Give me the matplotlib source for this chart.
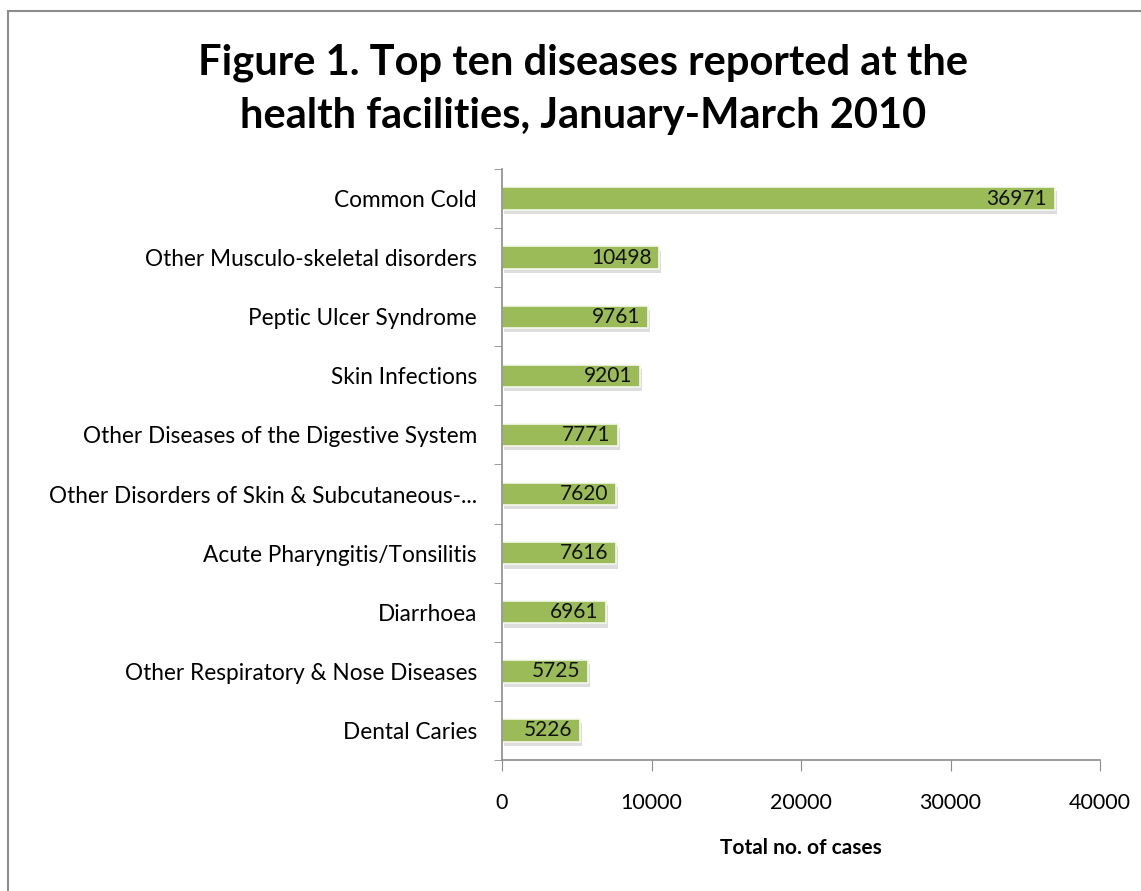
import matplotlib.pyplot as plt
import matplotlib.patheffects as pe
from matplotlib.patches import Rectangle

# data, top to bottom as shown
diseases = ["Common Cold",
            "Other Musculo-skeletal disorders",
            "Peptic Ulcer Syndrome",
            "Skin Infections",
            "Other Diseases of the Digestive System",
            "Other Disorders of Skin & Subcutaneous-...",
            "Acute Pharyngitis/Tonsilitis",
            "Diarrhoea",
            "Other Respiratory & Nose Diseases",
            "Dental Caries"]
cases = [36971, 10498, 9761, 9201, 7771, 7620, 7616, 6961, 5725, 5226]
x_ticks = [0, 10000, 20000, 30000, 40000]

plt.rcParams['font.family'] = ['Lato', 'DejaVu Sans']

fig = plt.figure(figsize=(11.41, 8.91), dpi=100)

# outer chart border (only left and top visible in the original)
fig.patches.append(Rectangle((8 / 1141, -0.1), 1.2, 1 - 11 / 891 + 0.1,
                             transform=fig.transFigure, fill=False,
                             edgecolor='#8c8c8c', linewidth=1.5))

ax = fig.add_axes([502 / 1141, 1 - 760 / 891, 598 / 1141, 591 / 891])

pos = list(range(len(diseases)))
bars = ax.barh(pos, cases, height=0.38, color='#9bbb59',
               edgecolor='#f4f8ec', linewidth=1.2)
for b in bars:
    b.set_path_effects([pe.SimplePatchShadow(offset=(1.5, -3),
                                             shadow_rgbFace='#a0a0a0', alpha=0.35),
                        pe.Normal()])

for p, v in zip(pos, cases):
    ax.text(v - 500, p, str(v), ha='right', va='center',
            fontsize=15, color='#111111')

ax.set_ylim(len(diseases) - 0.5, -0.5)
ax.set_xlim(0, 40000)
ax.set_yticks(pos)
ax.set_yticklabels(diseases, fontsize=16.3)
ax.set_yticks([p + 0.5 for p in range(-1, len(diseases))], minor=True)
ax.tick_params(axis='y', which='major', length=0, pad=18)
ax.tick_params(axis='y', which='minor', length=6, color='#8c8c8c')
ax.set_xticks(x_ticks)
ax.set_xticklabels([str(t) for t in x_ticks], fontsize=15.5)
ax.tick_params(axis='x', length=8, color='#8c8c8c', direction='out', pad=16)

for s in ['top', 'right']:
    ax.spines[s].set_visible(False)
for s in ['left', 'bottom']:
    ax.spines[s].set_color('#8c8c8c')
    ax.spines[s].set_linewidth(1.2)

ax.set_xlabel("Total no. of cases", fontsize=15, fontweight='bold', labelpad=18)

fig.text(0.511, 1 - 89 / 891,
         "Figure 1. Top ten diseases reported at the\nhealth facilities, January-March 2010",
         ha='center', va='center', fontsize=30, fontweight='bold',
         linespacing=1.5)

fig.savefig("out.png", dpi=100)
